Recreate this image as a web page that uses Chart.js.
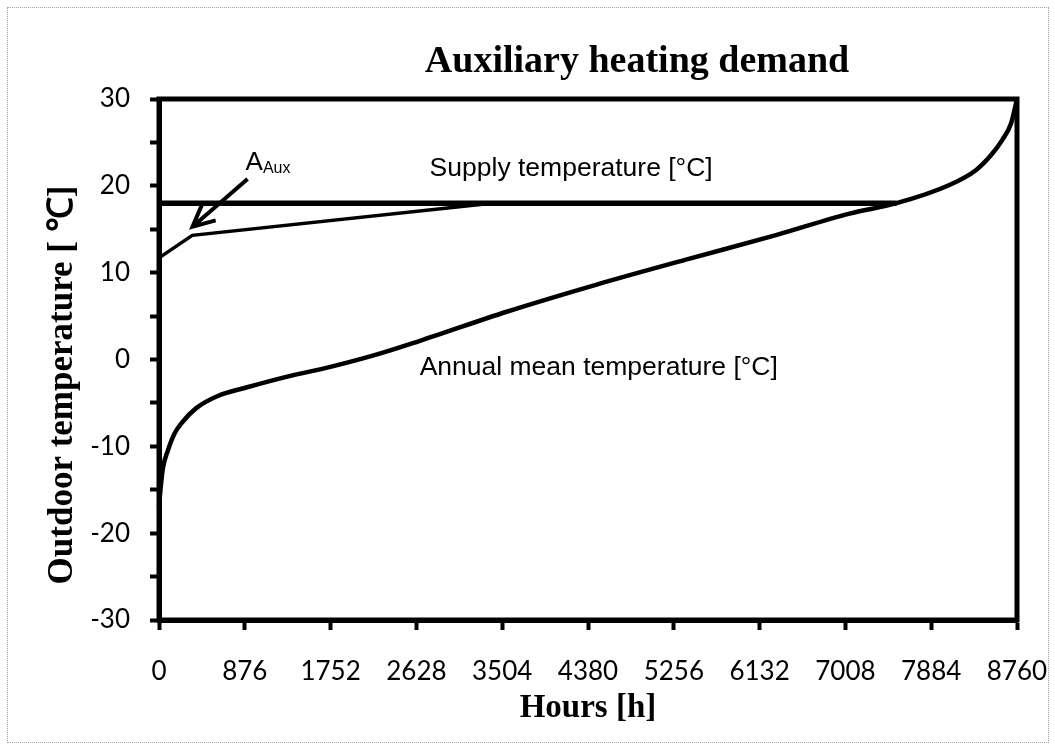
<!DOCTYPE html>
<html>
<head>
<meta charset="utf-8">
<title>Auxiliary heating demand</title>
<script src="https://cdn.jsdelivr.net/npm/chart.js@4.4.0/dist/chart.umd.min.js"></script>
<style>
  body { margin: 0; background: #fff; }
  .frame { position: absolute; left: 7px; top: 7px; width: 1040px; height: 734px; border: 1px dotted #a0a0a0; }
  #heatChart { position: absolute; left: 0; top: 0; }
</style>
</head>
<body>
<div class="frame"></div>
<canvas id="heatChart" width="1055" height="749"></canvas>
<script>
// sorted outdoor temperature over the year (duration curve)
const hours      = [0, 15, 40, 90, 160, 240, 380, 600, 900, 1300, 1750, 2200, 2650, 3550, 4460, 5380, 6290, 7050, 7530, 8070, 8340, 8500, 8610, 8700, 8760];
const annualTemp = [-17, -15, -12.5, -10.5, -8.5, -7.2, -5.6, -4.2, -3.2, -2.0, -0.85, 0.5, 2.1, 5.5, 8.6, 11.5, 14.3, 16.8, 18.0, 20.1, 21.8, 23.6, 25.3, 27.2, 30];

// supply temperature level
const supplyHours = [0, 7530];
const supplyTemp  = [18, 18];

// upper bound of the auxiliary heating area
const auxHours = [0, 340, 3400];
const auxTemp  = [11.7, 14.3, 18];

const xTickValues = [0, 876, 1752, 2628, 3504, 4380, 5256, 6132, 7008, 7884, 8760];
const yTickValues = [-30, -25, -20, -15, -10, -5, 0, 5, 10, 15, 20, 25, 30];

const chartTitle = 'Auxiliary heating demand';
const xTitle = 'Hours [h]';
const yTitle = 'Outdoor temperature [ \u2103]';
const supplyLabel = 'Supply temperature [\u00B0C]';
const annualLabel = 'Annual mean temperature [\u00B0C]';

const toPoints = (xs, ys) => xs.map((h, i) => ({ x: h, y: ys[i] }));

const serif = "'Liberation Serif', 'Times New Roman', serif";
const sans = "'Liberation Sans', Arial, sans-serif";
const tickFont = { family: "Lato, 'Open Sans', sans-serif", size: 26 };

// titles, plot box, text labels and the A_Aux arrow
const annotations = {
    id: 'annotations',
    afterDatasetsDraw(chart) {
        const { ctx, chartArea: a, scales: { x, y } } = chart;
        ctx.save();

        ctx.strokeStyle = '#000';
        ctx.lineWidth = 5;
        ctx.strokeRect(a.left, a.top, a.right - a.left, a.bottom - a.top);

        ctx.fillStyle = '#000';
        ctx.textBaseline = 'alphabetic';

        ctx.font = `bold 38px ${serif}`;
        ctx.textAlign = 'center';
        ctx.fillText(chartTitle, 637, 72);

        ctx.font = `bold 33px ${serif}`;
        ctx.fillText(xTitle, (a.left + a.right) / 2, 717);

        ctx.save();
        ctx.font = `bold 35px ${serif}`;
        ctx.translate(72, 385);
        ctx.rotate(-Math.PI / 2);
        ctx.fillText(yTitle, 0, 0);
        ctx.restore();

        ctx.font = `26.5px ${sans}`;
        ctx.textAlign = 'left';
        ctx.textBaseline = 'middle';
        ctx.fillText(supplyLabel, x.getPixelForValue(2763), y.getPixelForValue(22));
        ctx.fillText(annualLabel, x.getPixelForValue(2661), y.getPixelForValue(-1));

        // A_Aux with subscript
        const ax = x.getPixelForValue(884);
        const ay = y.getPixelForValue(22.7);
        ctx.font = `26px ${sans}`;
        ctx.fillText('A', ax, ay);
        const aw = ctx.measureText('A').width;
        ctx.font = `16px ${sans}`;
        ctx.fillText('Aux', ax + aw, ay + 6);

        // arrow pointing at the kink of the auxiliary line
        const sx = x.getPixelForValue(904), sy = y.getPixelForValue(20.8);
        const tx = x.getPixelForValue(342), ty = y.getPixelForValue(15.3);
        const ang = Math.atan2(ty - sy, tx - sx);
        const barb = 24;
        ctx.lineWidth = 4;
        ctx.lineCap = 'butt';
        ctx.beginPath();
        ctx.moveTo(sx, sy);
        ctx.lineTo(tx, ty);
        ctx.moveTo(tx - barb * Math.cos(ang - 0.45), ty - barb * Math.sin(ang - 0.45));
        ctx.lineTo(tx, ty);
        ctx.lineTo(tx - barb * Math.cos(ang + 0.45), ty - barb * Math.sin(ang + 0.45));
        ctx.stroke();

        ctx.restore();
    }
};

const ctx = document.getElementById('heatChart');

new Chart(ctx, {
    type: 'line',
    data: {
        datasets: [
            {
                label: supplyLabel,
                data: toPoints(supplyHours, supplyTemp),
                borderColor: '#000',
                borderWidth: 5.5,
                pointRadius: 0,
                clip: 6
            },
            {
                label: 'A Aux',
                data: toPoints(auxHours, auxTemp),
                borderColor: '#000',
                borderWidth: 3.5,
                pointRadius: 0,
                clip: 6
            },
            {
                label: annualLabel,
                data: toPoints(hours, annualTemp),
                borderColor: '#000',
                borderWidth: 4.5,
                pointRadius: 0,
                cubicInterpolationMode: 'monotone',
                clip: 6
            }
        ]
    },
    options: {
        responsive: false,
        animation: false,
        layout: { padding: { top: 99, right: 38, left: 0, bottom: 0 } },
        plugins: {
            legend: { display: false },
            title: { display: false },
            tooltip: { enabled: false }
        },
        scales: {
            x: {
                type: 'linear',
                min: 0,
                max: 8760,
                afterBuildTicks: (scale) => { scale.ticks = xTickValues.map(v => ({ value: v })); },
                afterFit: (scale) => {
                    scale.height = 129;
                    scale.paddingLeft = 0;
                    scale.paddingRight = 0;
                },
                border: { display: true, color: '#000', width: 5 },
                grid: { drawOnChartArea: false, drawTicks: true, tickLength: 10, tickWidth: 4, tickColor: '#000' },
                ticks: {
                    autoSkip: false,
                    maxRotation: 0,
                    padding: 26,
                    color: '#000',
                    font: tickFont,
                    callback: (v) => String(v)
                }
            },
            y: {
                type: 'linear',
                min: -30,
                max: 30,
                afterBuildTicks: (scale) => { scale.ticks = yTickValues.map(v => ({ value: v })); },
                afterFit: (scale) => {
                    scale.width = 159;
                    scale.paddingTop = 0;
                    scale.paddingBottom = 0;
                },
                border: { display: true, color: '#000', width: 5 },
                grid: { drawOnChartArea: false, drawTicks: true, tickLength: 9, tickWidth: 4, tickColor: '#000' },
                ticks: {
                    autoSkip: false,
                    padding: 20,
                    color: '#000',
                    font: tickFont,
                    callback: (v) => (v % 10 === 0 ? String(v) : '')
                }
            }
        }
    },
    plugins: [annotations]
});
</script>
</body>
</html>
